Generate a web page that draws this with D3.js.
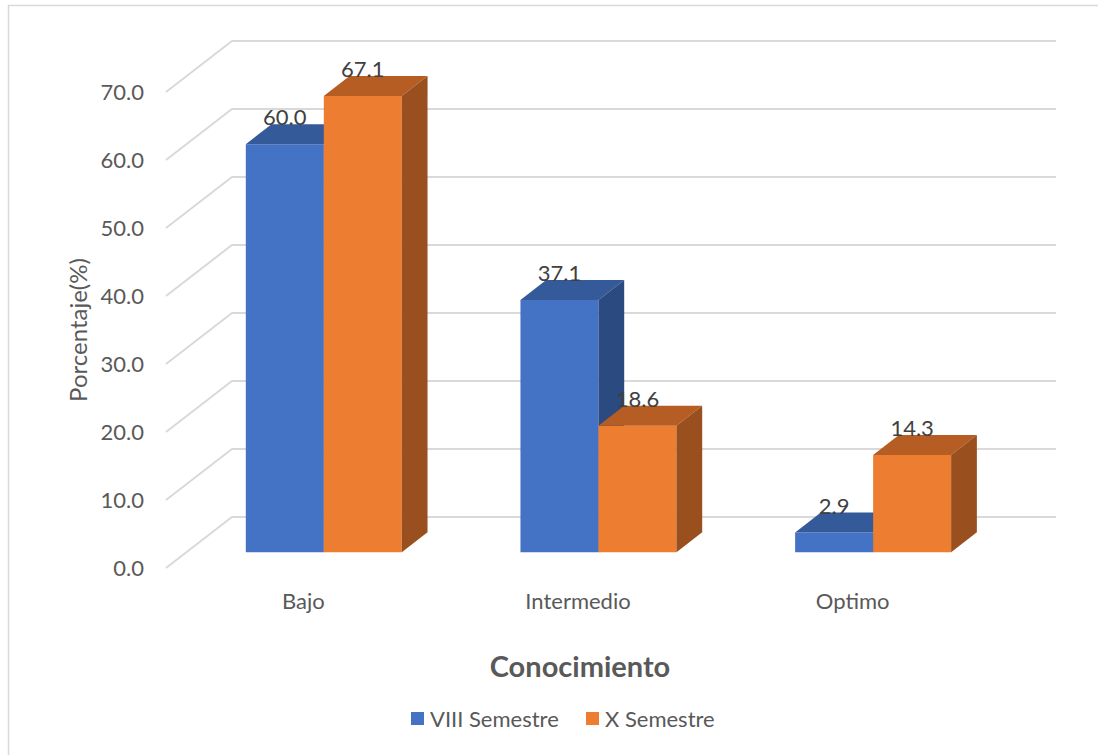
<!DOCTYPE html>
<html lang="es">
<head>
<meta charset="utf-8" />
<title>Conocimiento</title>
<script src="https://cdn.jsdelivr.net/npm/d3@7"></script>
<style>
body { margin:0; background:#fff; }
text { font-family: Lato, "Open Sans", sans-serif; fill:#595959; }
</style>
</head>
<body>
<div id="chart"></div>
<script type="text/javascript">
// data
var categories = ["Bajo", "Intermedio", "Optimo"];
var seriesNames = ["VIII Semestre", "X Semestre"];
var viii = [60.0, 37.1, 2.9];
var x10 = [67.1, 18.6, 14.3];
var yTicks = [0, 10, 20, 30, 40, 50, 60, 70];

var W = 1098, H = 755;
var faceCol = ["#4472c4", "#ed7d31"];
var topCol = ["#345a9a", "#b55d22"];
var sideCol = ["#2b4a7f", "#994f1e"];

// oblique depth vector (front -> back wall)
var DX = 66, DY = -51;
var dFront = 0.31, dBack = 0.70;

var svg = d3.select("#chart").append("svg")
    .attr("width", W)
    .attr("height", H);

// chart border
svg.append("rect")
   .attr("x", 8.5).attr("y", 5.5)
   .attr("width", 1100).attr("height", 760)
   .attr("fill", "none")
   .attr("stroke", "#d9d9d9")
   .attr("stroke-width", 1.5);

var x = d3.scaleBand().domain(categories).range([166, 990]);
var y = d3.scaleLinear().domain([0, 70]).range([568, 92]);
var barW = 78;

function P(px, py, d) { return [px + d * DX, py + d * DY]; }

// grid: left wall diagonals + back wall lines
var grid = svg.append("g").attr("stroke", "#d9d9d9").attr("stroke-width", 2).attr("fill", "none");
yTicks.forEach(function (t) {
  var a = P(166, y(t), 0), b = P(166, y(t), 1), c = P(990, y(t), 1);
  grid.append("path").attr("d", d3.line()([a, b, c]));
});

// y tick labels
svg.append("g").selectAll("text").data(yTicks).join("text")
   .attr("x", 144)
   .attr("y", function (d) { return y(d); })
   .attr("dy", "0.35em")
   .attr("text-anchor", "end")
   .attr("font-size", 22)
   .text(function (d) { return d.toFixed(1); });

// bars
var bars = svg.append("g");
var labels = svg.append("g");
[viii, x10].forEach(function (vals, s) {
  vals.forEach(function (v, i) {
    var x0 = x(categories[i]) + x.bandwidth() / 2 - barW + s * barW;
    var x1 = x0 + barW;
    var yt = y(v), yb = y(0);
    var line = d3.line();
    // front
    bars.append("path").attr("fill", faceCol[s])
        .attr("d", line([P(x0, yt, dFront), P(x1, yt, dFront), P(x1, yb, dFront), P(x0, yb, dFront)]) + "Z");
    // top
    bars.append("path").attr("fill", topCol[s])
        .attr("d", line([P(x0, yt, dFront), P(x1, yt, dFront), P(x1, yt, dBack), P(x0, yt, dBack)]) + "Z");
    // side
    bars.append("path").attr("fill", sideCol[s])
        .attr("d", line([P(x1, yt, dFront), P(x1, yt, dBack), P(x1, yb, dBack), P(x1, yb, dFront)]) + "Z");
    var lp = P((x0 + x1) / 2, yt, dBack);
    labels.append("text")
        .attr("x", (x0 + x1) / 2 + dFront * DX)
        .attr("y", lp[1] + 1)
        .attr("text-anchor", "middle")
        .attr("font-size", 22)
        .style("fill", "#404040")
        .text(v.toFixed(1));
  });
});

// category labels
svg.append("g").selectAll("text").data(categories).join("text")
   .attr("x", function (d) { return x(d) + x.bandwidth() / 2; })
   .attr("y", 601)
   .attr("dy", "0.35em")
   .attr("text-anchor", "middle")
   .attr("font-size", 22)
   .text(function (d) { return d; });

// axis titles
svg.append("text")
   .attr("transform", "translate(79,330) rotate(-90)")
   .attr("dy", "0.35em")
   .attr("text-anchor", "middle")
   .attr("font-size", 24)
   .text("Porcentaje(%)");

svg.append("text")
   .attr("x", 580).attr("y", 667)
   .attr("dy", "0.35em")
   .attr("text-anchor", "middle")
   .attr("font-size", 29)
   .attr("font-weight", "bold")
   .text("Conocimiento");

// legend
var legX = [411, 586];
var leg = svg.append("g");
seriesNames.forEach(function (n, s) {
  leg.append("rect").attr("x", legX[s]).attr("y", 712).attr("width", 13).attr("height", 13).attr("fill", faceCol[s]);
  leg.append("text").attr("x", legX[s] + 19).attr("y", 719).attr("dy", "0.35em").attr("font-size", 22).text(n);
});
</script>
</body>
</html>
